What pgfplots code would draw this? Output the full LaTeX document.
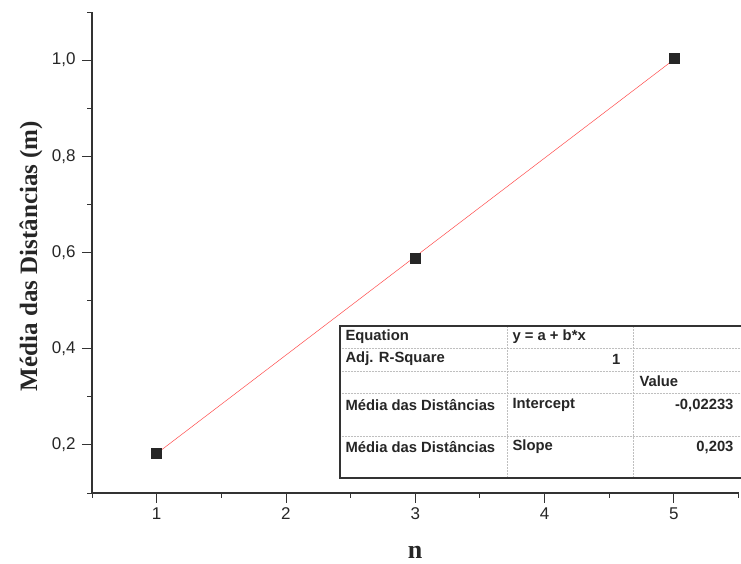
\documentclass[border=0pt]{standalone}
\usepackage{pgfplots}
\pgfplotsset{compat=1.18}
\usepackage{fontspec}
\setmainfont{Liberation Sans}
\newfontfamily\timesfont{Liberation Serif}
\begin{document}
\begin{tikzpicture}[x=1pt,y=1pt]
\path[use as bounding box] (0,0) rectangle (741,564);
\begin{axis}[
  at={(92pt,71pt)}, anchor=south west,
  scale only axis, width=646.5pt, height=481pt,
  xmin=0.5, xmax=5.5, ymin=0.1, ymax=1.1,
  axis x line*=bottom, axis y line*=left,
  axis line style={-, line width=1.1pt, black!80},
  every outer x axis line/.append style={-},
  every outer y axis line/.append style={-},
  tick align=outside,
  major tick length=10pt, minor tick length=5pt,
  every tick/.style={black!80, line width=0.9pt},
  xtick={1,2,3,4,5},
  minor xtick={0.5,1.5,2.5,3.5,4.5,5.5},
  ytick={0.2,0.4,0.6,0.8,1.0},
  minor ytick={0.1,0.3,0.5,0.7,0.9,1.1},
  yticklabel style={xshift=-3pt, /pgf/number format/.cd, fixed, fixed zerofill, precision=1, use comma},
  /pgf/number format/assume math mode=true,
  tick label style={font=\fontsize{17}{17}\selectfont, text=black!85},
  xticklabel style={yshift=-1pt},
  clip=false,
]
\addplot[red!70, line width=0.5pt] coordinates {(1,0.182) (5,1.001)};
\addplot[only marks, mark=square*, mark size=5pt, black!85] coordinates {(1,0.183) (3,0.589) (5,1.003)};
\end{axis}
% y label and x label
\node[rotate=90, font=\timesfont\bfseries\fontsize{25}{25}\selectfont, text=black!85] at (31,308) {Média das Distâncias (m)};
\node[font=\timesfont\bfseries\fontsize{26}{26}\selectfont, text=black!85] at (415,12) {n};
% fit table
\begin{scope}[font=\bfseries\fontsize{14.8}{14.8}\selectfont, text=black!85]
\fill[white] (340,86) rectangle (760,238);
\foreach \yy in {216,193,171,128} \draw[gray!50, line width=0.5pt, densely dotted] (340,\yy) -- (760,\yy);
\foreach \xx in {507,633} \draw[gray!50, line width=0.5pt, densely dotted] (\xx,86) -- (\xx,238);
\draw[black!80, line width=1.1pt] (760,238) -- (340,238) -- (340,86) -- (760,86);
\draw[black!80, line width=1.4pt] (340,86) -- (760,86);
\node[anchor=west] at (342,227) {Equation};
\node[anchor=west] at (509,227) {y = a + b*x};
\node[anchor=west] at (342,205) {Adj. R-Square};
\node[anchor=east] at (624,205) {1};
\node[anchor=west] at (636,183) {Value};
\node[anchor=west] at (342,159) {Média das Distâncias};
\node[anchor=west] at (509,159) {Intercept};
\node[anchor=east] at (737,159) {-0,02233};
\node[anchor=west] at (342,117) {Média das Distâncias};
\node[anchor=west] at (509,117) {Slope};
\node[anchor=east] at (737,117) {0,203};
\end{scope}
\end{tikzpicture}
\end{document}
